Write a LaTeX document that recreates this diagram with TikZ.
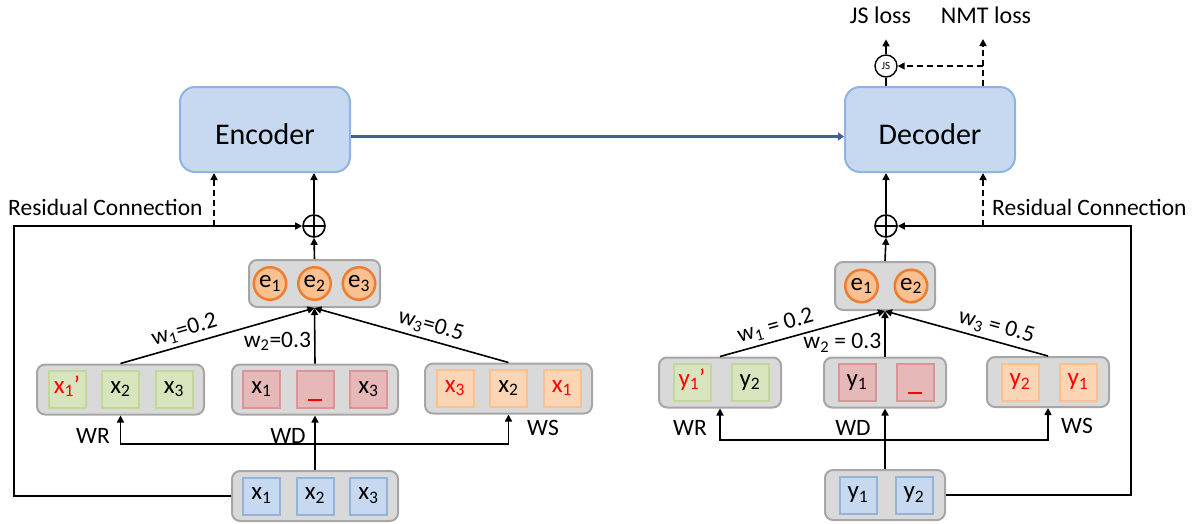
\documentclass[tikz,border=0pt]{standalone}
\usepackage{fontspec}
\setmainfont{Carlito}
\usetikzlibrary{arrows.meta,positioning}
\definecolor{boxgray}{HTML}{D9D9D9}
\definecolor{linegray}{HTML}{A6A6A6}
\definecolor{encfill}{HTML}{C6D9F1}
\definecolor{encline}{HTML}{8EB4E3}
\definecolor{bluefill}{HTML}{C6D9F1}
\definecolor{blueline}{HTML}{95B3D7}
\definecolor{greenfill}{HTML}{D7E4BD}
\definecolor{greenline}{HTML}{C3D69B}
\definecolor{redfill}{HTML}{E6B9B8}
\definecolor{redline}{HTML}{D99694}
\definecolor{orfill}{HTML}{FCD5B5}
\definecolor{orline}{HTML}{FAC090}
\definecolor{efill}{HTML}{FAC090}
\definecolor{eline}{HTML}{ED7D31}
\definecolor{linkblue}{HTML}{41628F}
\newcommand{\tk}[2]{#1\textsubscript{#2}}
\newcommand{\rtk}[2]{{\color{red}#1\textsubscript{#2}}}
\newcommand{\blank}{{\color{red}\rule[-8pt]{14pt}{1.6pt}}}

\begin{document}
\begin{tikzpicture}[x=1pt, y=-1pt,
    mybox/.style={draw=linegray, fill=boxgray, line width=2pt, rounded corners=8pt, minimum height=50pt},
    mycell/.style={line width=2pt, minimum width=37pt, minimum height=37pt, inner sep=0pt,
        text height=11pt, text depth=4pt, font=\fontsize{25}{29}\selectfont},
    bcell/.style={mycell, draw=blueline, fill=bluefill},
    gcell/.style={mycell, draw=greenline, fill=greenfill},
    rcell/.style={mycell, draw=redline, fill=redfill},
    ocell/.style={mycell, draw=orline, fill=orfill},
    mycirc/.style={circle, draw=eline, fill=efill, line width=2.5pt, minimum size=32.5pt, inner sep=0pt,
        font=\fontsize{25}{29}\selectfont},
    coder/.style={draw=encline, fill=encfill, line width=2pt, rounded corners=15pt, minimum width=170pt,
        minimum height=85pt, text height=29pt, text depth=0pt, font=\fontsize{30}{36}\selectfont},
    oplus/.style={circle, draw, line width=1.6pt, minimum size=22pt, inner sep=0pt,
        path picture={\draw[line width=1.6pt] (path picture bounding box.north) -- (path picture bounding box.south)
            (path picture bounding box.west) -- (path picture bounding box.east);}},
    conn/.style={line width=1.6pt, -{Triangle[length=7pt,width=7pt]}},
    dconn/.style={conn, dash pattern=on 6pt off 4pt},
    lbl/.style={font=\fontsize{23.5}{28}\selectfont, inner sep=0pt}
    ]
    \useasboundingbox (0,0) rectangle (1195,523);

    % encoder and decoder
    \node[coder] (enc) at (265,129.5) {Encoder};
    \node[coder] (dec) at (930,129.5) {Decoder};
    \draw[line width=3.5pt, linkblue, -{Triangle[length=6pt,width=8pt]}] ([yshift=-7pt]enc.east) -- ([yshift=-7pt]dec.west);

    % source side
    \node[mybox, minimum width=166pt] (inL) at (315,496) {};
    \node[bcell] (inL2) at (inL) {\tk{x}{2}};
    \node[bcell, left=14.5pt of inL2] (inL1) {\tk{x}{1}};
    \node[bcell, right=14.5pt of inL2] (inL3) {\tk{x}{3}};

    \node[mybox, minimum width=167pt] (wrL) at (120.5,389.5) {};
    \node[gcell] (wrL2) at (wrL) {\tk{x}{2}};
    \node[gcell, left=14.5pt of wrL2] (wrL1) {\rtk{x}{1}{\color{red}’}};
    \node[gcell, right=14.5pt of wrL2] (wrL3) {\tk{x}{3}};

    \node[mybox, minimum width=166pt] (wdL) at (315,389.5) {};
    \node[rcell] (wdL2) at (wdL) {\blank};
    \node[rcell, left=14.5pt of wdL2] (wdL1) {\tk{x}{1}};
    \node[rcell, right=14.5pt of wdL2] (wdL3) {\tk{x}{3}};

    \node[mybox, minimum width=167pt] (wsL) at (508.5,388.5) {};
    \node[ocell] (wsL2) at (wsL) {\tk{x}{2}};
    \node[ocell, left=14.5pt of wsL2] (wsL1) {\rtk{x}{3}};
    \node[ocell, right=14.5pt of wsL2] (wsL3) {\rtk{x}{1}};

    \node[mybox, minimum width=131pt, minimum height=47pt] (eL) at (314.5,283.5) {};
    \node[mycirc] (eL2) at (eL) {\tk{e}{2}};
    \node[mycirc, left=9.5pt of eL2] (eL1) {\tk{e}{1}};
    \node[mycirc, right=9.5pt of eL2] (eL3) {\tk{e}{3}};

    \node[oplus] (plusE) at (314,226) {};

    \node[lbl] (wrlL) at (93,436) {WR};
    \node[lbl] (wdlL) at (288,436) {WD};
    \node[lbl] (wslL) at (543,428) {WS};
    \node[lbl, anchor=west] (resL) at (8,207) {Residual Connection};

    \coordinate (splitL) at (315,444);
    \draw[conn] (inL.north) -- (wdL.south);
    \draw[conn] (splitL) -| (wrL.south);
    \draw[conn] (splitL) -| (wsL.south);
    \draw[conn] (wrL.north) -- (eL.south) node[lbl, pos=0.35, above=4pt, sloped] {w\textsubscript{1}=0.2};
    \draw[conn] (wdL.north) -- (eL.south) node[lbl, pos=0.4, left=3pt] {w\textsubscript{2}=0.3};
    \draw[conn] (wsL.north) -- (eL.south) node[lbl, pos=0.42, above=4pt, sloped] {w\textsubscript{3}=0.5};
    \draw[conn] (eL.north) -- (plusE.south);
    \draw[conn] (plusE.north) -- (plusE.north |- enc.south);
    \draw[conn] (inL.west) -- ++(-217,0) |- (plusE.west);
    \draw[dconn] ([xshift=35pt]enc.south west |- plusE) -- ([xshift=35pt]enc.south west);

    % target side
    \node[mybox, minimum width=120pt] (inR) at (885,495) {};
    \node[bcell] (inR1) at ([xshift=-27pt]inR.center) {\tk{y}{1}};
    \node[bcell, right=17pt of inR1] (inR2) {\tk{y}{2}};

    \node[mybox, minimum width=122pt] (wrR) at (720,382.5) {};
    \node[gcell] (wrR1) at ([xshift=-28pt]wrR.center) {\rtk{y}{1}{\color{red}’}};
    \node[gcell, right=19pt of wrR1] (wrR2) {\tk{y}{2}};

    \node[mybox, minimum width=122pt] (wdR) at (885,382.5) {};
    \node[rcell] (wdR1) at ([xshift=-28pt]wdR.center) {\tk{y}{1}};
    \node[rcell, right=19pt of wdR1] (wdR2) {\blank};

    \node[mybox, minimum width=122pt] (wsR) at (1048,382) {};
    \node[ocell] (wsR1) at ([xshift=-28pt]wsR.center) {\rtk{y}{2}};
    \node[ocell, right=19pt of wsR1] (wsR2) {\rtk{y}{1}};

    \node[mybox, minimum width=100pt, minimum height=48pt] (eR) at (885,286) {};
    \node[mycirc] (eR1) at ([xshift=-23.5pt]eR.center) {\tk{e}{1}};
    \node[mycirc, right=14.5pt of eR1] (eR2) {\tk{e}{2}};

    \node[oplus] (plusD) at (886,226) {};

    \node[lbl] (wrlR) at (690,428) {WR};
    \node[lbl] (wdlR) at (853,428) {WD};
    \node[lbl] (wslR) at (1077,426) {WS};
    \node[lbl, anchor=west] (resR) at (992,207) {Residual Connection};

    \coordinate (splitR) at (885,440);
    \draw[conn] (inR.north) -- (wdR.south);
    \draw[conn] (splitR) -| (wrR.south);
    \draw[conn] (splitR) -| (wsR.south);
    \draw[conn] (wrR.north) -- (eR.south) node[lbl, pos=0.36, above=4pt, sloped] {w\textsubscript{1} = 0.2};
    \draw[conn] (wdR.north) -- (eR.south) node[lbl, pos=0.3, left=3pt] {w\textsubscript{2} = 0.3};
    \draw[conn] (wsR.north) -- (eR.south) node[lbl, pos=0.34, above=4pt, sloped] {w\textsubscript{3} = 0.5};
    \draw[conn] (eR.north) -- (plusD.south);
    \draw[conn] (plusD.north) -- (plusD.north |- dec.south);
    \draw[conn] (inR.east) -- ++(185,0) |- (plusD.east);
    \draw[dconn] ([xshift=-33pt]dec.south east |- plusD) -- ([xshift=-33pt]dec.south east);

    % losses
    \node[circle, draw, line width=1.4pt, minimum size=22pt, inner sep=0pt, font=\fontsize{11}{12}\selectfont] (js) at (886,66) {JS};
    \node[lbl, font=\fontsize{24}{28}\selectfont] (jsl) at (880.5,15) {JS loss};
    \node[lbl, font=\fontsize{24}{28}\selectfont] (nmtl) at (986,15) {NMT loss};
    \coordinate (nmtc) at ([xshift=-33pt]dec.north east);
    \draw[line width=1.6pt] (js |- dec.north) -- (js.south);
    \draw[conn] (js.north) -- ++(0,-15);
    \draw[dconn] (nmtc) -- ++(0,-47);
    \draw[dconn] (nmtc |- js) -- (js.east);
\end{tikzpicture}
\end{document}
